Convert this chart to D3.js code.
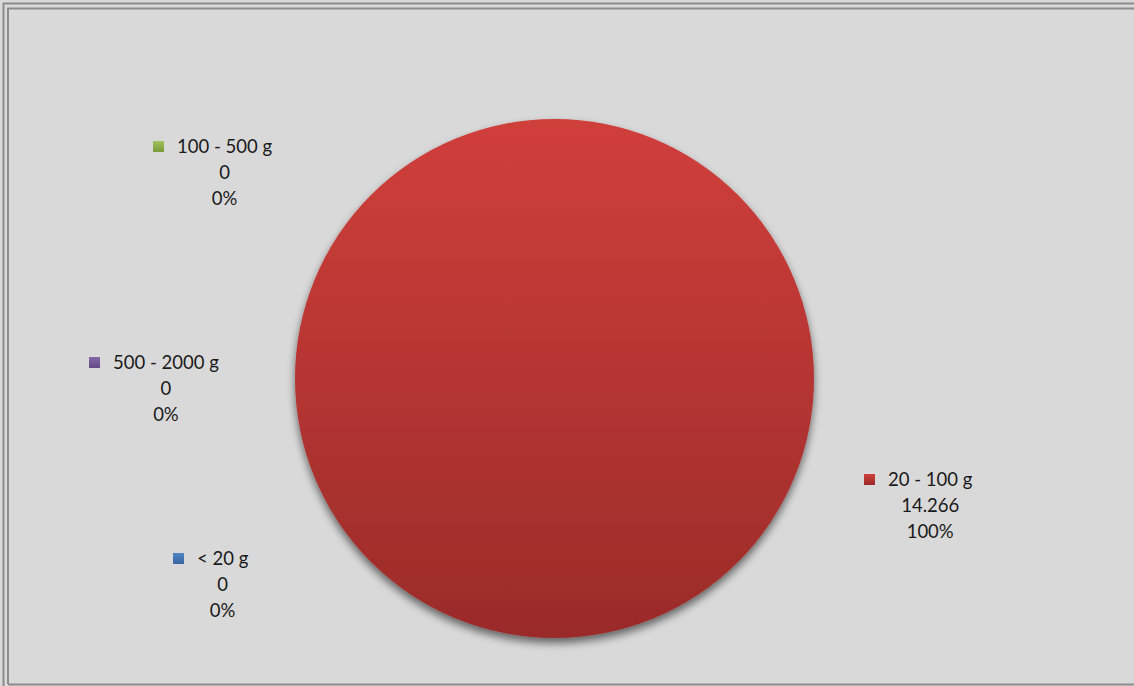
<!DOCTYPE html>
<html>
<head>
<meta charset="utf-8">
<script src="https://cdn.jsdelivr.net/npm/d3@7"></script>
<style>
  body { margin: 0; background: #ffffff; }
  svg { display: block; }
</style>
</head>
<body>
<svg id="chart" width="1134" height="686"></svg>
<script>
// Chart data
const categories = ["< 20 g", "20 - 100 g", "100 - 500 g", "500 - 2000 g"];
const values = [0, 14.266, 0, 0];
const percentLabels = ["0%", "100%", "0%", "0%"];
const colorsTop = ["#4f85c6", "#d03f3b", "#9fc25a", "#8467a8"];
const colorsBottom = ["#3a66a0", "#9a2b29", "#7a9a3c", "#634a84"];

// Label anchor positions (layout only, x = key square left, y = first baseline)
const labelLayout = [
	{x: 173, y: 565},
	{x: 864, y: 486},
	{x: 153, y: 153},
	{x: 89, y: 369}
];

// Draw pie
function drawPie(svgId) {
	const svg = d3.select(svgId),
		width = +svg.attr("width"),
		height = +svg.attr("height");

	const cx = 554.5, cy = 378.5, radius = 259.5;

	const defs = svg.append("defs");

	// Slice gradients
	categories.forEach((c, i) => {
		const g = defs.append("linearGradient")
			.attr("id", "grad" + i)
			.attr("x1", 0).attr("y1", 0).attr("x2", 0).attr("y2", 1);
		g.append("stop").attr("offset", "0%").attr("stop-color", colorsTop[i]);
		g.append("stop").attr("offset", "100%").attr("stop-color", colorsBottom[i]);
	});

	// Shadow under pie
	const shadow = defs.append("filter")
		.attr("id", "shadow")
		.attr("x", "-20%").attr("y", "-20%")
		.attr("width", "140%").attr("height", "140%");
	shadow.append("feGaussianBlur").attr("in", "SourceAlpha").attr("stdDeviation", 4);
	shadow.append("feOffset").attr("dx", 0).attr("dy", 5).attr("result", "blur");
	shadow.append("feComponentTransfer").append("feFuncA").attr("type", "linear").attr("slope", 0.55);
	const merge = shadow.append("feMerge");
	merge.append("feMergeNode");
	merge.append("feMergeNode").attr("in", "SourceGraphic");

	// Background and frame
	svg.append("rect")
		.attr("x", 0).attr("y", 0)
		.attr("width", width).attr("height", height)
		.attr("fill", "#d9d9d9");

	svg.append("path")
		.attr("d", `M3.5,${height} V3.5 H${width}`)
		.attr("fill", "none")
		.attr("stroke", "#8c8c8c")
		.attr("stroke-width", 2);
	svg.append("path")
		.attr("d", `M8,${height - 2} V8.5 H${width}`)
		.attr("fill", "none")
		.attr("stroke", "#8c8c8c")
		.attr("stroke-width", 2);
	svg.append("line")
		.attr("x1", 8).attr("x2", width)
		.attr("y1", height - 1.5).attr("y2", height - 1.5)
		.attr("stroke", "#8c8c8c")
		.attr("stroke-width", 2);

	const pie = d3.pie().sort(null).value(d => d);
	const arcs = pie(values);

	const arc = d3.arc().innerRadius(0).outerRadius(radius);

	svg.append("g")
		.attr("transform", `translate(${cx},${cy})`)
		.attr("filter", "url(#shadow)")
		.selectAll("path")
		.data(arcs)
		.join("path")
		.attr("d", arc)
		.attr("fill", (d, i) => `url(#grad${i})`);

	// Data labels
	const labels = svg.append("g")
		.attr("class", "labels")
		.selectAll("g")
		.data(categories)
		.join("g")
		.attr("transform", (d, i) => `translate(${labelLayout[i].x},${labelLayout[i].y})`);

	labels.append("rect")
		.attr("x", 0).attr("y", -12)
		.attr("width", 11).attr("height", 11)
		.attr("fill", (d, i) => `url(#grad${i})`);

	const txt = labels.append("text")
		.style("font-family", "Lato, 'Open Sans', sans-serif")
		.style("font-size", "18.5px")
		.attr("fill", "#1a1a1a");

	txt.append("tspan")
		.attr("x", 24).attr("y", 0)
		.text(d => d);

	// center value lines under the category text
	labels.each(function(d, i) {
		const g = d3.select(this);
		const t = g.select("text");
		const w = t.node().getComputedTextLength();
		const mid = 24 + w / 2;
		t.append("tspan").attr("x", mid).attr("y", 26)
			.attr("text-anchor", "middle")
			.text(values[i] === 0 ? "0" : d3.format(".3f")(values[i]));
		t.append("tspan").attr("x", mid).attr("y", 52)
			.attr("text-anchor", "middle")
			.text(percentLabels[i]);
	});
}

drawPie("#chart");
</script>
</body>
</html>
